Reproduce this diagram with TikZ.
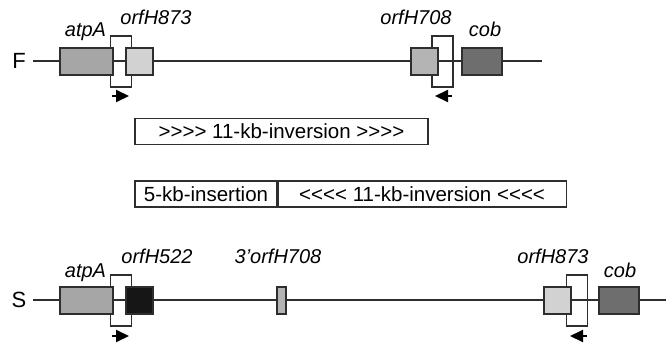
\documentclass[tikz,border=0pt]{standalone}
\usepackage{fontspec}
\setmainfont{Liberation Sans}
\usetikzlibrary{arrows.meta}
\definecolor{gA}{HTML}{A6A6A6}
\definecolor{gL}{HTML}{D2D2D2}
\definecolor{gM}{HTML}{B4B4B4}
\definecolor{gD}{HTML}{6E6E6E}
\definecolor{gK}{HTML}{161616}
\definecolor{ln}{HTML}{2E2E2E}
\tikzset{
  gene/.style={draw=ln, line width=1.2pt, inner sep=0pt, minimum height=27pt},
  openbox/.style={draw=ln, line width=1.2pt, inner sep=0pt, minimum width=21pt, minimum height=51pt},
  backbone/.style={draw=ln, line width=1.4pt},
  glabel/.style={font=\fontsize{20}{21}\selectfont\itshape, anchor=base, inner sep=0pt},
  rowlabel/.style={font=\fontsize{22}{24}\selectfont, inner sep=0pt},
  dirarrow/.style={line width=2pt, -{Triangle[length=13pt,width=12pt]}},
  bar/.style={draw=ln, line width=1.1pt, inner sep=0pt, minimum height=26pt, font=\fontsize{20.5}{22}\selectfont}
}
\begin{document}
\begin{tikzpicture}[x=1pt,y=-1pt]
\useasboundingbox (0,0) rectangle (666,345);
% ---------- F row ----------
\node[openbox] (oF1) at (121,61.5) {};
\node[openbox] (oF2) at (442.5,61.5) {};
\node[rowlabel] (F) at (19,61) {F};
\coordinate (Fend) at (542,61);
\draw[backbone] (33,61) -- (Fend);
\node[gene, fill=gA, minimum width=53pt] (atpF) at (86.5,61.5) {};
\node[gene, fill=gL, minimum width=27pt] (h873F) at (139.5,61.5) {};
\node[gene, fill=gM, minimum width=27pt] (h708F) at (424.5,61.5) {};
\node[gene, fill=gD, minimum width=40pt] (cobF) at (482,61.5) {};
\node[glabel] (latpF) at (85.5,37) {atpA};
\node[glabel] (l873F) at (156,25) {orfH873};
\node[glabel] (l708F) at (416,25) {orfH708};
\node[glabel] (lcobF) at (485,37) {cob};
\coordinate (aF1s) at (112,96);
\coordinate (aF1e) at (129,96);
\draw[dirarrow] (aF1s) -- (aF1e);
\coordinate (aF2s) at (452,96);
\coordinate (aF2e) at (435,96);
\draw[dirarrow] (aF2s) -- (aF2e);
% ---------- bars ----------
\node[bar, minimum width=293pt] (inv1) at (281.5,131.5) {>{}>{}>{}> 11-kb-inversion >{}>{}>{}>};
\node[bar, minimum width=142pt] (ins) at (206,194) {5-kb-insertion};
\node[bar, minimum width=288pt, anchor=west] (inv2) at (ins.east) {<{}<{}<{}< 11-kb-inversion <{}<{}<{}<};
% ---------- S row ----------
\node[openbox] (oS1) at (121,300.5) {};
\node[openbox] (oS2) at (577,300.5) {};
\node[rowlabel] (S) at (19,300) {S};
\coordinate (Send) at (666,300);
\draw[backbone] (33,300) -- (Send);
\node[gene, fill=gA, minimum width=53pt] (atpS) at (86.5,300.5) {};
\node[gene, fill=gK, minimum width=27pt] (h522S) at (139.5,300.5) {};
\node[gene, fill=gM, minimum width=9pt] (h708S) at (281.5,300.5) {};
\node[gene, fill=gL, minimum width=27pt] (h873S) at (557.5,300.5) {};
\node[gene, fill=gD, minimum width=40pt] (cobS) at (619,300.5) {};
\node[glabel] (latpS) at (85.5,277) {atpA};
\node[glabel] (l522S) at (157,263) {orfH522};
\node[glabel] (l708S) at (278,263) {3'orfH708};
\node[glabel] (l873S) at (553,263) {orfH873};
\node[glabel] (lcobS) at (620,277) {cob};
\coordinate (aS1s) at (112,336);
\coordinate (aS1e) at (129,336);
\draw[dirarrow] (aS1s) -- (aS1e);
\coordinate (aS2s) at (587,336);
\coordinate (aS2e) at (570,336);
\draw[dirarrow] (aS2s) -- (aS2e);
\end{tikzpicture}
\end{document}
